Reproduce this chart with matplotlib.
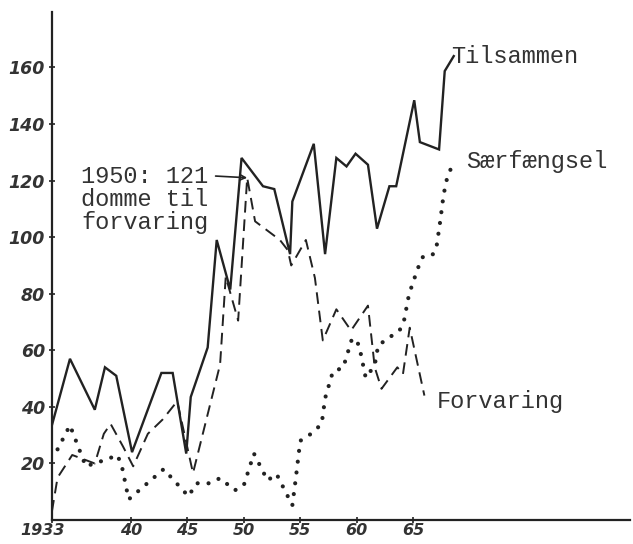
import numpy as np
import matplotlib
matplotlib.use("Agg")
import matplotlib.pyplot as plt
import matplotlib.transforms as mtransforms

# Tilsammen (fuldt optrukket)
aar_til = [1933.0, 1934.6, 1936.8, 1937.7, 1938.7, 1940.1, 1942.7, 1943.7, 1944.9, 1945.3,
           1946.8, 1947.6, 1948.8, 1949.8, 1951.7, 1952.7, 1954.1, 1954.3, 1956.2, 1957.2,
           1958.2, 1959.1, 1959.9, 1961.0, 1961.8, 1962.9, 1963.5, 1965.1, 1965.6, 1967.3,
           1967.8, 1968.6]
til = [33.5, 57, 39, 54, 51, 24, 52, 52, 23.5, 43.5,
       61, 99, 81.5, 128, 118, 117, 94, 112.6, 133, 94,
       128, 125, 129.5, 125.6, 103, 118, 118, 148.4, 133.6, 131,
       158.7, 164]

# Forvaring (stiplet)
aar_forv = [1933.0, 1933.5, 1934.8, 1936.8, 1937.6, 1938.2, 1939.3, 1940.2, 1941.5, 1942.8,
            1944.1, 1945.5, 1947.9, 1948.4, 1949.5, 1950.3, 1951.0, 1953.2, 1953.9, 1954.2,
            1955.5, 1956.3, 1957.0, 1958.2, 1959.5, 1961.0, 1961.6, 1962.2, 1963.6, 1964.1,
            1964.7, 1966.0]
forv = [3, 15, 23, 20, 30.5, 34, 26, 19, 30.5, 35.5,
        42, 16.6, 55, 86, 70.5, 121, 105.6, 99, 95.4, 90,
        99, 85.6, 63.5, 74.5, 67, 75.8, 54, 46.4, 54, 51.6,
        68, 44]

# Særfængsel (prikket)
aar_saer = [1933.5, 1934.6, 1936.0, 1937.9, 1938.8, 1939.2, 1939.8, 1942.9, 1945.1, 1945.8,
            1946.9, 1947.9, 1949.2, 1950.0, 1950.9, 1952.1, 1952.9, 1954.3, 1954.6, 1955.0,
            1956.0, 1956.9, 1957.2, 1957.9, 1958.8, 1959.6, 1960.2, 1960.8, 1961.6, 1961.9,
            1962.8, 1963.8, 1964.2, 1964.6, 1964.9, 1965.5, 1965.9, 1966.8, 1967.1, 1967.4,
            1967.7, 1968.0, 1968.4]
saer = [25, 33.5, 19, 21.5, 23, 19, 7.3, 18, 8.4, 13,
        13, 14.8, 10.5, 12.3, 23.5, 14, 16.3, 5.2, 14.5, 28,
        30.6, 34, 43, 52.6, 53.8, 64.3, 62, 50.3, 54.7, 61.7,
        64.3, 67, 70.6, 79, 83, 89.8, 93.3, 94, 97.3, 105.6,
        115, 120.7, 124.8]

xticks = [1933, 1940, 1945, 1950, 1955, 1960, 1965]
xlabels = ["1933", "40", "45", "50", "55", "60", "65"]
yticks = [20, 40, 60, 80, 100, 120, 140, 160]

ink = "#222222"
mono = "Liberation Mono"
fs = 17

fig = plt.figure(figsize=(6.33, 5.44), dpi=100)
ax = fig.add_axes([0.082, 0.044, 0.913, 0.934])

ax.plot(aar_til, til, color=ink, lw=1.7, solid_joinstyle="miter")
ax.plot(aar_forv, forv, color=ink, lw=1.4, linestyle=(0, (6, 3.5)))
ax.plot(aar_saer, saer, color=ink, lw=3.0, linestyle=(0, (0.01, 2.6)),
        dash_capstyle="round")

ax.set_xlim(1933, 1984.2)
ax.set_ylim(0, 179.6)

for side in ["top", "right"]:
    ax.spines[side].set_visible(False)
for side in ["left", "bottom"]:
    ax.spines[side].set_color(ink)
    ax.spines[side].set_linewidth(1.6)

ax.set_xticks(xticks)
ax.set_xticklabels(xlabels)
ax.set_yticks(yticks)
ax.tick_params(axis="both", colors=ink, direction="inout", length=4, width=1.2,
               labelsize=12.5)
ax.tick_params(axis="x", pad=0, labelsize=11.5)
ax.tick_params(axis="y", pad=3)
for lab in ax.get_xticklabels() + ax.get_yticklabels():
    lab.set_fontstyle("italic")
    lab.set_fontweight("bold")
    lab.set_color("#333333")

# "1933" sidder lidt til venstre for aksen i originalen
first = ax.get_xticklabels()[0]
first.set_transform(first.get_transform() +
                    mtransforms.ScaledTranslation(-0.09, 0, fig.dpi_scale_trans))

ax.text(1968.4, 164, "Tilsammen", family=mono, fontsize=fs, color="#333333",
        va="center", ha="left")
ax.text(1969.7, 126.7, "Særfængsel", family=mono, fontsize=fs, color="#333333",
        va="center", ha="left")
ax.text(1967.1, 41.8, "Forvaring", family=mono, fontsize=fs, color="#333333",
        va="center", ha="left")

ax.text(1935.6, 113.3, "1950: 121\ndomme til\nforvaring", family=mono, fontsize=fs,
        color="#333333", va="center", ha="left", linespacing=1.0)
ax.annotate("", xy=(1950.3, 121), xytext=(1947.5, 121.6),
            arrowprops=dict(arrowstyle="->", color=ink, lw=1.2,
                            shrinkA=0, shrinkB=0))

plt.savefig("out.png", dpi=100)
